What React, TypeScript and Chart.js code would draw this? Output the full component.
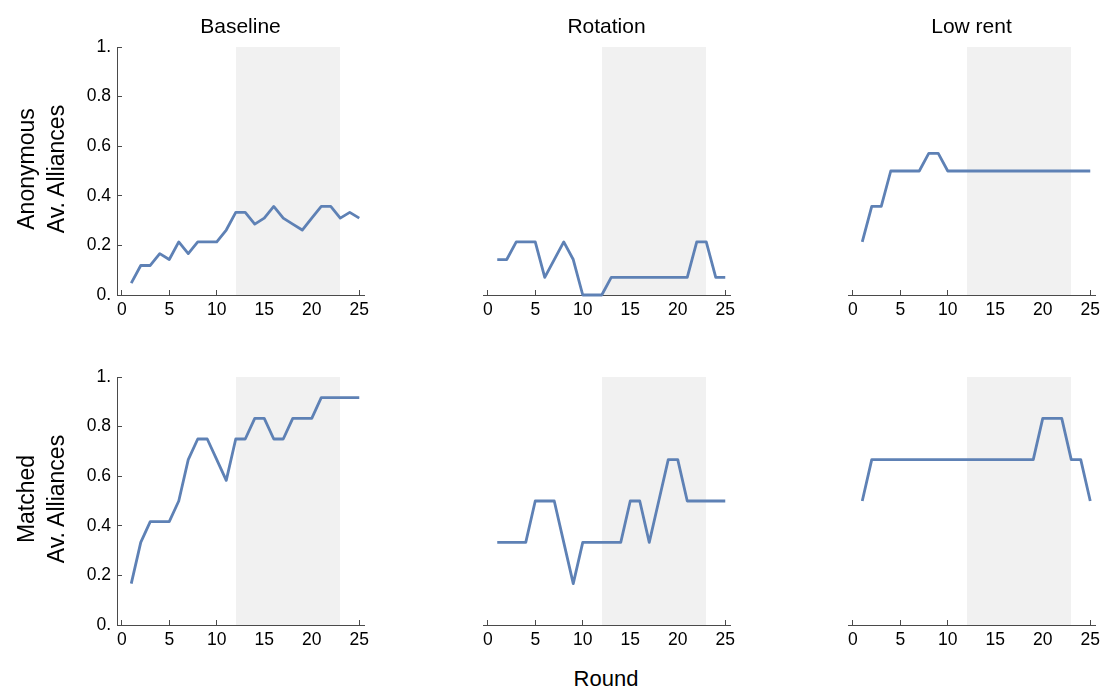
import React, { useEffect, useRef } from "react";
import { Chart, registerables } from "chart.js";

Chart.register(...registerables);

// ---------- data ----------
const rounds = [1, 2, 3, 4, 5, 6, 7, 8, 9, 10, 11, 12, 13, 14, 15, 16, 17, 18, 19, 20, 21, 22, 23, 24, 25];

const baselineAnonymous = [0.048, 0.119, 0.119, 0.167, 0.143, 0.214, 0.167, 0.214, 0.214, 0.214, 0.262, 0.333, 0.333, 0.286, 0.31, 0.357, 0.31, 0.286, 0.262, 0.31, 0.357, 0.357, 0.31, 0.333, 0.31];
const rotationAnonymous = [0.143, 0.143, 0.214, 0.214, 0.214, 0.071, 0.143, 0.214, 0.143, 0, 0, 0, 0.071, 0.071, 0.071, 0.071, 0.071, 0.071, 0.071, 0.071, 0.071, 0.214, 0.214, 0.071, 0.071];
const lowRentAnonymous = [0.214, 0.357, 0.357, 0.5, 0.5, 0.5, 0.5, 0.571, 0.571, 0.5, 0.5, 0.5, 0.5, 0.5, 0.5, 0.5, 0.5, 0.5, 0.5, 0.5, 0.5, 0.5, 0.5, 0.5, 0.5];

const baselineMatched = [0.167, 0.333, 0.417, 0.417, 0.417, 0.5, 0.667, 0.75, 0.75, 0.667, 0.583, 0.75, 0.75, 0.833, 0.833, 0.75, 0.75, 0.833, 0.833, 0.833, 0.917, 0.917, 0.917, 0.917, 0.917];
const rotationMatched = [0.333, 0.333, 0.333, 0.333, 0.5, 0.5, 0.5, 0.333, 0.167, 0.333, 0.333, 0.333, 0.333, 0.333, 0.5, 0.5, 0.333, 0.5, 0.667, 0.667, 0.5, 0.5, 0.5, 0.5, 0.5];
const lowRentMatched = [0.5, 0.667, 0.667, 0.667, 0.667, 0.667, 0.667, 0.667, 0.667, 0.667, 0.667, 0.667, 0.667, 0.667, 0.667, 0.667, 0.667, 0.667, 0.667, 0.833, 0.833, 0.833, 0.667, 0.667, 0.5];

const shadedRounds = [12, 23];
const xTickValues = [0, 5, 10, 15, 20, 25];
const yTickValues = [0, 0.2, 0.4, 0.6, 0.8, 1];
const yTickLabels = ["0.", "0.2", "0.4", "0.6", "0.8", "1."];
const columnTitles = ["Baseline", "Rotation", "Low rent"];
const rowLabels = [
  ["Anonymous", "Av. Alliances"],
  ["Matched", "Av. Alliances"],
];
const xAxisTitle = "Round";

const panelSeries = [
  [baselineAnonymous, rotationAnonymous, lowRentAnonymous],
  [baselineMatched, rotationMatched, lowRentMatched],
];

// ---------- styling / layout ----------
const FONT = "'Liberation Sans', Arial, Helvetica, sans-serif";
const LINE_COLOR = "#5e81b5";
const SHADE_COLOR = "#f1f1f1";
const AXIS_COLOR = "#4a4a4a";

const AREA_LEFTS = [117, 483, 848];
const AREA_TOPS = [47, 377];
const AREA_W = 247;
const AREA_H = 248;
const Y_AXIS_W = 50;
const X_AXIS_H = 32;
const PAD_TOP = 12;
const TICK_FONT = 17.5;

Chart.defaults.font.family = FONT;

type PanelProps = {
  values: number[];
  showY: boolean;
  left: number;
  top: number;
  width: number;
  height: number;
  padLeft: number;
  padRight: number;
};

function Panel({ values, showY, left, top, width, height, padLeft, padRight }: PanelProps) {
  const ref = useRef<HTMLCanvasElement | null>(null);
  useEffect(() => {
    if (!ref.current) return;
    const chart = new Chart(ref.current, {
      type: "line",
      data: {
        datasets: [
          {
            data: rounds.map((r, i) => ({ x: r, y: values[i] })),
            borderColor: LINE_COLOR,
            borderWidth: 2.8,
            pointRadius: 0,
            fill: false,
            tension: 0,
            order: 0,
            clip: false as any,
            borderJoinStyle: "round",
          },
          {
            data: shadedRounds.map((r) => ({ x: r, y: 1 })),
            borderWidth: 0,
            borderColor: "rgba(0,0,0,0)",
            backgroundColor: SHADE_COLOR,
            fill: "origin",
            pointRadius: 0,
            order: 1,
          },
        ],
      },
      options: {
        animation: false,
        responsive: false,
        maintainAspectRatio: false,
        events: [],
        layout: { padding: { top: PAD_TOP, right: padRight, bottom: 0, left: padLeft } },
        plugins: {
          legend: { display: false },
          tooltip: { enabled: false },
          title: { display: false },
        },
        scales: {
          x: {
            type: "linear",
            position: "bottom",
            min: -0.5,
            max: 25.5,
            afterBuildTicks: (s: any) => {
              s.ticks = xTickValues.map((v) => ({ value: v }));
            },
            afterFit: (s: any) => {
              s.height = X_AXIS_H;
              s.paddingLeft = 0;
              s.paddingRight = 0;
              s.paddingTop = 0;
              s.paddingBottom = 0;
            },
            ticks: {
              autoSkip: false,
              maxRotation: 0,
              color: "#000",
              padding: 10,
              font: { size: TICK_FONT, family: FONT },
            },
            grid: {
              drawOnChartArea: false,
              drawTicks: true,
              tickLength: -5,
              color: AXIS_COLOR,
              lineWidth: 1,
            },
            border: { display: true, color: AXIS_COLOR, width: 1 },
          },
          y: {
            type: "linear",
            display: showY,
            min: 0,
            max: 1,
            afterBuildTicks: (s: any) => {
              s.ticks = yTickValues.map((v) => ({ value: v }));
            },
            afterFit: (s: any) => {
              s.width = showY ? Y_AXIS_W : 0;
              s.paddingLeft = 0;
              s.paddingRight = 0;
              s.paddingTop = 0;
              s.paddingBottom = 0;
            },
            ticks: {
              autoSkip: false,
              color: "#000",
              padding: 11,
              font: { size: TICK_FONT, family: FONT },
              callback: (_v: any, i: number) => yTickLabels[i],
            },
            grid: {
              drawOnChartArea: false,
              drawTicks: true,
              tickLength: -5,
              color: AXIS_COLOR,
              lineWidth: 1,
            },
            border: { display: true, color: AXIS_COLOR, width: 1 },
          },
        },
      } as any,
    });
    return () => chart.destroy();
  }, []);
  return (
    <canvas
      ref={ref}
      width={width}
      height={height}
      style={{ position: "absolute", left, top, width, height }}
    />
  );
}

function Label({ text, cx, baseline, size }: { text: string; cx: number; baseline: number; size: number }) {
  return (
    <div
      style={{
        position: "absolute",
        left: cx - 150,
        width: 300,
        top: baseline - 0.847 * size,
        fontSize: size,
        lineHeight: `${size}px`,
        textAlign: "center",
        fontFamily: FONT,
        color: "#000",
        whiteSpace: "nowrap",
      }}
    >
      {text}
    </div>
  );
}

export default function App() {
  const panels: React.ReactNode[] = [];
  for (let r = 0; r < 2; r++) {
    for (let c = 0; c < 3; c++) {
      const showY = c === 0;
      const padLeft = showY ? 0 : 10;
      const padRight = c === 2 ? 7 : 10;
      const canvasLeft = AREA_LEFTS[c] - (showY ? Y_AXIS_W : padLeft);
      const width = (showY ? Y_AXIS_W : padLeft) + AREA_W + padRight;
      panels.push(
        <Panel
          key={`${r}-${c}`}
          values={panelSeries[r][c]}
          showY={showY}
          left={canvasLeft}
          top={AREA_TOPS[r] - PAD_TOP}
          width={width}
          height={PAD_TOP + AREA_H + X_AXIS_H}
          padLeft={padLeft}
          padRight={padRight}
        />
      );
    }
  }

  return (
    <div
      style={{
        position: "absolute",
        left: 0,
        top: 0,
        width: 1102,
        height: 689,
        overflow: "hidden",
        background: "#fff",
      }}
    >
      {panels}
      {columnTitles.map((t, c) => (
        <Label key={t} text={t} cx={AREA_LEFTS[c] + AREA_W / 2} baseline={32.7} size={21} />
      ))}
      {rowLabels.map((lines, r) => (
        <div
          key={r}
          style={{
            position: "absolute",
            left: 41,
            top: AREA_TOPS[r] + AREA_H / 2 - 2,
            width: 240,
            transform: "translate(-50%, -50%) rotate(-90deg)",
            fontFamily: FONT,
            fontSize: 23,
            lineHeight: "30px",
            textAlign: "center",
            color: "#000",
            whiteSpace: "nowrap",
          }}
        >
          {lines.map((l) => (
            <div key={l}>{l}</div>
          ))}
        </div>
      ))}
      <Label text={xAxisTitle} cx={606} baseline={687} size={22} />
    </div>
  );
}
